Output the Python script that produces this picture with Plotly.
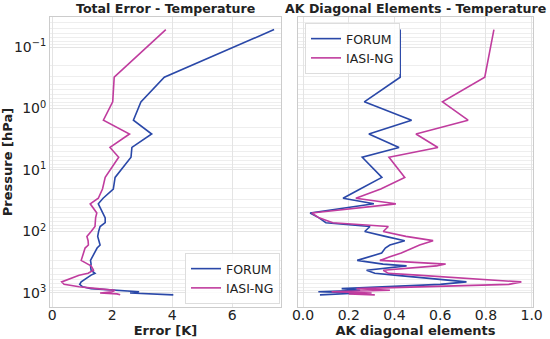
import plotly.graph_objects as go

# Pressure levels [hPa]
pressure = [0.052, 0.31, 0.78, 1.55, 2.6, 4.3, 6.2, 13.2, 20.4, 28.8, 35.5, 50, 60, 72, 83,
            100, 120, 141, 166, 186, 224, 257, 295, 339, 363, 427, 479, 513, 661, 724,
            794, 851, 902, 955, 1000, 1035, 1072]

forum_err = [7.4, 3.74, 2.96, 2.71, 3.32, 2.66, 2.63, 2.1, 2.04, 1.7, 1.54, 1.7, 1.77, 1.77, 1.6,
             1.55, 1.52, 1.56, 1.6, 1.5, 1.4, 1.34, 1.28, 1.3, 1.28, 1.3, 1.43, 1.3, 0.97, 0.92,
             1.02, 1.3, 2.0, 2.9, 2.6, 3.3, 4.04]
iasi_err = [3.79, 2.07, 2.02, 1.71, 2.58, 1.93, 2.22, 1.77, 1.68, 1.54, 1.27, 1.49, 1.45, 1.43, 1.43,
            1.3, 1.16, 1.2, 1.21, 1.1, 1.04, 1.0, 0.97, 1.19, 1.3, 1.38, 1.2, 0.9, 0.32, 0.4,
            0.9, 1.5, 2.1, 2.0, 1.6, 2.16, 2.27]

forum_ak = [0.425, 0.425, 0.268, 0.475, 0.288, 0.42, 0.259, 0.345, 0.25, 0.175, 0.31, 0.031, 0.07, 0.1, 0.293,
            0.27, 0.36, 0.445, 0.38, 0.36, 0.344, 0.29, 0.237, 0.35, 0.453, 0.278, 0.314, 0.4, 0.715, 0.6,
            0.35, 0.169, 0.25, 0.067, 0.25, 0.15, 0.074]
iasi_ak = [0.835, 0.795, 0.61, 0.722, 0.494, 0.59, 0.376, 0.445, 0.34, 0.231, 0.406, 0.038, 0.07, 0.13, 0.373,
           0.351, 0.45, 0.569, 0.51, 0.48, 0.43, 0.38, 0.336, 0.624, 0.584, 0.351, 0.373, 0.5, 0.955, 0.9,
           0.45, 0.234, 0.38, 0.125, 0.3, 0.2, 0.314]

y_tickvals = [0.1, 1, 10, 100, 1000]
y_ticktext = ["10<sup>−1</sup>", "10<sup>0</sup>", "10<sup>1</sup>", "10<sup>2</sup>", "10<sup>3</sup>"]
err_ticks = [0, 2, 4, 6]
ak_ticks = [0.0, 0.2, 0.4, 0.6, 0.8, 1.0]

BLUE = "#2a48a8"
MAGENTA = "#c03c9e"
FONT = "DejaVu Sans"
TXT = "#222222"
GRID = "#e4e4e4"
MINOR = "#eeeeee"
SPINE = "#cccccc"

fig = go.Figure()
fig.add_trace(go.Scatter(x=forum_err, y=pressure, mode="lines", name="FORUM",
                         line=dict(color=BLUE, width=1.6), xaxis="x", yaxis="y", legend="legend"))
fig.add_trace(go.Scatter(x=iasi_err, y=pressure, mode="lines", name="IASI-NG",
                         line=dict(color=MAGENTA, width=1.6), xaxis="x", yaxis="y", legend="legend"))
fig.add_trace(go.Scatter(x=forum_ak, y=pressure, mode="lines", name="FORUM",
                         line=dict(color=BLUE, width=1.6), xaxis="x2", yaxis="y2", legend="legend2"))
fig.add_trace(go.Scatter(x=iasi_ak, y=pressure, mode="lines", name="IASI-NG",
                         line=dict(color=MAGENTA, width=1.6), xaxis="x2", yaxis="y2", legend="legend2"))

W, H = 550, 339
ml, mr, mt, mb = 50, 17, 17, 32
pw = W - ml - mr
ph = H - mt - mb
d1 = [0, (281 - ml) / pw]
d2 = [(298 - ml) / pw, 1]

tickfont = dict(family=FONT, size=14, color=TXT)
axcommon = dict(showgrid=True, gridcolor=GRID, gridwidth=1, showline=True, linecolor=SPINE,
                linewidth=1, mirror=True, zeroline=False, ticks="", tickfont=tickfont,
                automargin=False)
ycommon = dict(type="log", range=[3.228, -1.488], tickvals=y_tickvals, ticktext=y_ticktext,
               minor=dict(showgrid=True, gridcolor=MINOR, gridwidth=1,
                          tickvals=[m * 10 ** e for e in range(-2, 4) for m in range(2, 10)]),
               **axcommon)
titlefont = dict(family=FONT, size=13, color=TXT)

legcommon = dict(bgcolor="rgba(255,255,255,0.85)", bordercolor="#dddddd", borderwidth=1,
                 font=dict(family=FONT, size=12.5, color=TXT), tracegroupgap=0, itemwidth=30)

fig.update_layout(
    width=W, height=H, autosize=False,
    margin=dict(l=ml, r=mr, t=mt, b=mb, autoexpand=False),
    paper_bgcolor="white", plot_bgcolor="white",
    font=dict(family=FONT, size=13, color=TXT),
    xaxis=dict(domain=d1, range=[-0.07, 7.63], tickvals=err_ticks, ticklabelstandoff=-5,
               title=dict(text="<b>Error [K]</b>", font=titlefont, standoff=0),
               anchor="y", **axcommon),
    xaxis2=dict(domain=d2, range=[-0.022, 1.006], tickvals=ak_ticks, tickformat=".1f",
                ticklabelstandoff=-5,
                title=dict(text="<b>AK diagonal elements</b>", font=titlefont, standoff=0),
                anchor="y2", **axcommon),
    yaxis=dict(domain=[0, 1], anchor="x",
               title=dict(text="<b>Pressure [hPa]</b>", font=titlefont, standoff=0),
               **ycommon),
    yaxis2=dict(domain=[0, 1], anchor="x2", matches="y", showticklabels=False, **ycommon),
    legend=dict(x=(280 - ml) / pw, y=(307 - 304) / ph, xanchor="right", yanchor="bottom", **legcommon),
    legend2=dict(x=(305 - ml) / pw, y=(307 - 23) / ph, xanchor="left", yanchor="top", **legcommon),
    showlegend=True,
)

fig.add_annotation(text="<b>Total Error - Temperature</b>", xref="x domain", yref="y domain",
                   x=0.5, y=1, xanchor="center", yanchor="bottom", yshift=-1, showarrow=False,
                   font=dict(family=FONT, size=12.6, color=TXT))
fig.add_annotation(text="<b>AK Diagonal Elements - Temperature</b>", xref="x2 domain", yref="y2 domain",
                   x=0.5, y=1, xanchor="center", yanchor="bottom", yshift=-1, showarrow=False,
                   font=dict(family=FONT, size=12.6, color=TXT))

fig.write_html("out.html", config={"displayModeBar": False},
               post_script="document.body.style.margin='0px';")
